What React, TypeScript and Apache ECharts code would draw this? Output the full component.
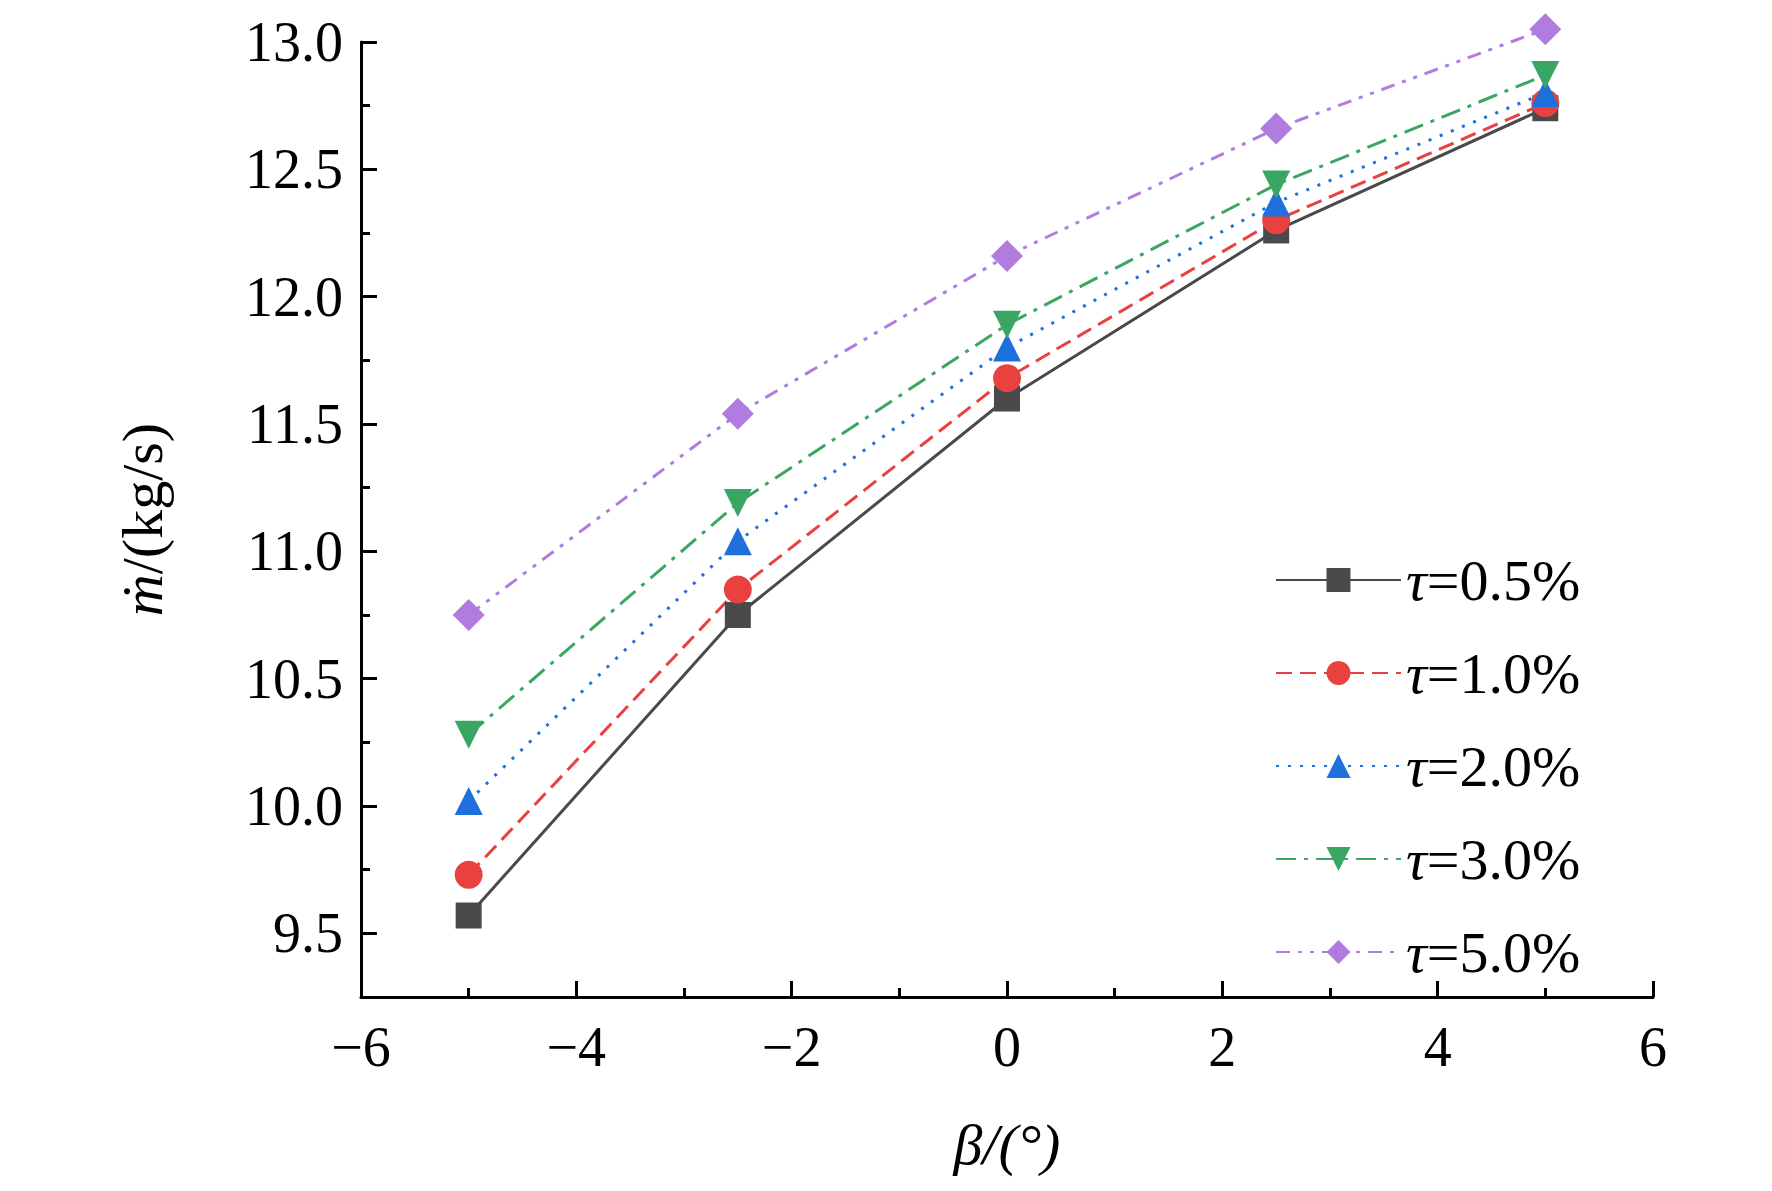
import React, { useEffect, useRef } from "react";
import * as echarts from "echarts";

const betas = [-5, -2.5, 0, 2.5, 5];
const tau05 = [9.57, 10.75, 11.6, 12.26, 12.74];
const tau10 = [9.73, 10.85, 11.68, 12.3, 12.76];
const tau20 = [10.02, 11.04, 11.8, 12.37, 12.8];
const tau30 = [10.28, 11.19, 11.89, 12.44, 12.87];
const tau50 = [10.75, 11.54, 12.16, 12.66, 13.05];
const names = ["0.5%", "1.0%", "2.0%", "3.0%", "5.0%"];
const yMajor = [9.5, 10, 10.5, 11, 11.5, 12, 12.5, 13];
const yMinor = [9.25, 9.5, 9.75, 10, 10.25, 10.5, 10.75, 11, 11.25, 11.5, 11.75, 12, 12.25, 12.5, 12.75, 13];

const colors = ["#4a4a4a", "#e8413f", "#1f6fdc", "#3aa663", "#b07ce0"];
const symbols = ["rect", "circle", "triangle", "path://M0,0 L10,0 L5,9 Z", "diamond"];
const dashes: any[] = ["solid", [16, 8], [3, 9], [20, 8, 4, 8], [14, 8, 4, 8, 4, 8]];
const sizes = [26, 28, 28, 28, 32];
const F = "Liberation Serif, Times New Roman, serif";

export default function App() {
  const ref = useRef<HTMLDivElement>(null);
  useEffect(() => {
    const chart = echarts.init(ref.current!, null, { renderer: "svg" });
    const all = [tau05, tau10, tau20, tau30, tau50];
    chart.setOption({
      animation: false,
      backgroundColor: "#fff",
      grid: { left: 353, right: 111, top: 34, bottom: 186 },
      legend: {
        orient: "vertical",
        left: 1262,
        top: 538,
        itemWidth: 125,
        itemHeight: 30,
        itemGap: 35,
        data: names.map((n) => "τ=" + n),
        formatter: (s: string) => "{i|τ}{n|" + s.slice(1) + "}",
        textStyle: {
          rich: {
            i: { fontFamily: F, fontSize: 58, fontStyle: "italic", color: "#000" },
            n: { fontFamily: F, fontSize: 58, color: "#000" },
          },
        },
      },
      xAxis: {
        type: "value",
        min: -6,
        max: 6,
        interval: 2,
        name: "β/(°)",
        nameLocation: "middle",
        nameGap: 118,
        nameTextStyle: { fontFamily: F, fontSize: 58, color: "#000", fontStyle: "italic" },
        axisLine: { onZero: false, lineStyle: { color: "#000", width: 3 } },
        axisTick: { inside: true, length: 16, lineStyle: { color: "#000", width: 3 } },
        minorTick: { show: true, splitNumber: 2, length: 9, lineStyle: { color: "#000", width: 3 } },
        axisLabel: {
          fontFamily: F, fontSize: 56, color: "#000", margin: 22,
          formatter: (v: number) => (v < 0 ? "−" + Math.abs(v) : String(v)),
        },
        splitLine: { show: false },
      },
      yAxis: [
        {
          type: "value",
          min: 9.25,
          max: 13,
          name: "{i|ṁ}{n|/(kg/s)}",
          nameLocation: "middle",
          nameRotate: 90,
          nameGap: 190,
          nameTextStyle: {
            rich: {
              i: { fontFamily: F, fontSize: 58, fontStyle: "italic", color: "#000" },
              n: { fontFamily: F, fontSize: 58, color: "#000" },
            },
          },
          axisLine: { show: true, onZero: false, lineStyle: { color: "#000", width: 3 } },
          axisTick: { show: true, inside: true, length: 16, customValues: yMajor, lineStyle: { color: "#000", width: 3 } },
          axisLabel: {
            fontFamily: F, fontSize: 56, color: "#000", margin: 18,
            customValues: yMajor,
            formatter: (v: number) => v.toFixed(1),
          },
          splitLine: { show: false },
        },
        {
          type: "value",
          min: 9.25,
          max: 13,
          position: "left",
          axisLine: { show: false, onZero: false },
          axisTick: { show: true, inside: true, length: 9, customValues: yMinor, lineStyle: { color: "#000", width: 3 } },
          axisLabel: { show: false },
          splitLine: { show: false },
        },
      ],
      series: all.map((d, i) => ({
        name: "τ=" + names[i],
        type: "line",
        data: betas.map((b, j) => [b, d[j]]),
        symbol: symbols[i],
        symbolSize: sizes[i],
        clip: false,
        itemStyle: { color: colors[i] },
        lineStyle: { color: colors[i], width: 3, type: dashes[i] },
      })),
    });
    return () => chart.dispose();
  }, []);
  return <div ref={ref} style={{ width: 1756, height: 1175 }} />;
}
